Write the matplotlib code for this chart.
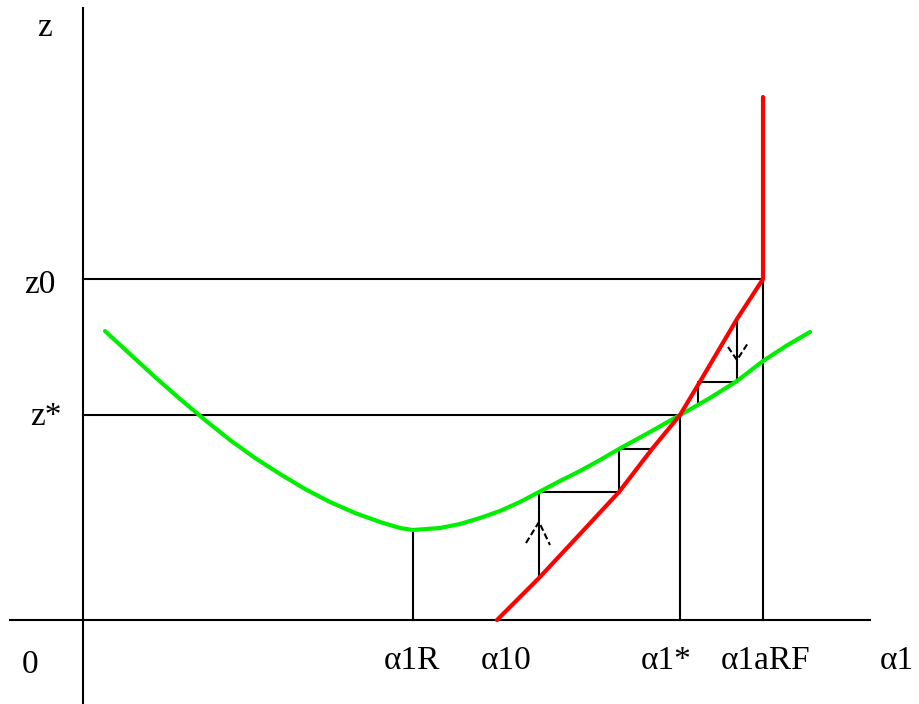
import matplotlib
matplotlib.use("Agg")
from matplotlib import pyplot as plt

plt.rcParams['font.family'] = ['Liberation Serif', 'DejaVu Serif']

# green curve (hand drawn), x = alpha1, y = z
green_x = [22, 47, 72, 97, 122, 147, 172, 197, 222, 247, 272, 297, 317, 330,
           357, 377, 397, 417, 437, 456, 477, 497, 517, 536, 567, 597, 627, 654, 680, 703, 727]
green_y = [289, 266, 243, 221, 200, 180, 162, 146, 131, 118, 107, 98, 92, 90,
           92, 96, 102, 109, 118, 128, 139, 149, 160, 171, 188, 205, 222, 239, 259, 274, 288]

# red curve, ends in a vertical piece at alpha1aRF
red_x = [414, 456, 497, 536, 569, 597, 615, 654, 680, 680]
red_y = [0, 42, 86, 128, 171, 205, 235, 301, 341, 523]

# named levels
a1R, a1star, a1aRF = 330, 597, 680
z_min, z_star, z0 = 90, 205, 341

# cobweb steps
step_low_x = [456, 456, 536, 536, 569]
step_low_y = [42, 128, 128, 171, 171]
step_up_x = [654, 654, 615, 615]
step_up_y = [301, 238, 238, 216]

# arrow heads (left, tip, right)
arrow_up_x = [443, 456, 467]
arrow_up_y = [77, 98, 75]
arrow_dn_x = [645, 654, 665]
arrow_dn_y = [273, 260, 277]

x_labels = ['α1R', 'α10', 'α1*', 'α1aRF', 'α1']
x_label_pos = [329, 423, 583, 683, 814]

fig = plt.figure(figsize=(9.19, 7.04), dpi=100)
ax = fig.add_axes([0, 0, 1, 1])
ax.set_xlim(-83, 836)
ax.set_ylim(-84, 620)
ax.axis('off')

k = dict(color='black', lw=1.5)
# axes
ax.plot([0, 0], [-84, 612], **k)
ax.plot([-73, 787], [0, 0], **k)
# guide lines
ax.plot([0, a1aRF], [z0, z0], **k)
ax.plot([0, a1star], [z_star, z_star], **k)
ax.plot([a1R, a1R], [0, z_min], **k)
ax.plot([a1star, a1star], [0, z_star], **k)
ax.plot([a1aRF, a1aRF], [0, z0], **k)

ax.plot(step_low_x, step_low_y, **k)
ax.plot(step_up_x, step_up_y, **k)
ax.plot(arrow_up_x, arrow_up_y, color='black', lw=1.5, ls=(0, (3, 1.5)))
ax.plot(arrow_dn_x, arrow_dn_y, color='black', lw=1.5, ls=(0, (3, 1.5)))

ax.plot(green_x, green_y, color='#00ee00', lw=3, solid_capstyle='round', solid_joinstyle='round')
ax.plot(red_x, red_y, color='#ff0000', lw=3, solid_capstyle='round', solid_joinstyle='round')

fs = 24
ax.text(-38, 592, 'z', fontsize=fs, ha='center', va='center')
ax.text(-43, 327, 'z0', fontsize=fs, ha='center', va='baseline')
ax.text(-37, 195, 'z*', fontsize=fs, ha='center', va='baseline')
ax.text(-53, -45, '0', fontsize=fs, ha='center', va='center')
for lab, xp in zip(x_labels, x_label_pos):
    ax.text(xp, -49, lab, fontsize=fs, ha='center', va='baseline')

fig.savefig('out.png', dpi=100)
